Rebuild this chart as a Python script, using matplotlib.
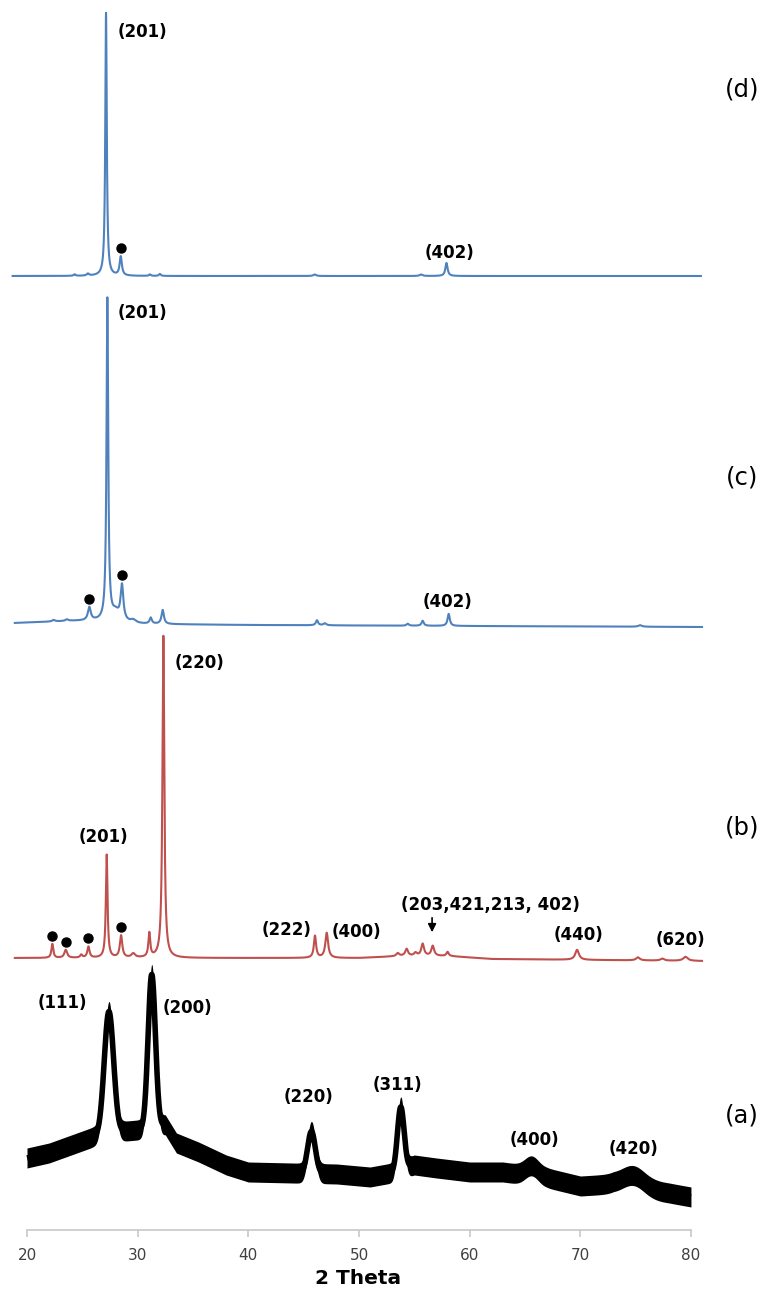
import numpy as np
import matplotlib.pyplot as plt

plt.rcParams['font.family'] = ['DejaVu Sans']

# intensities are in arbitrary units (stacked patterns, offset upwards)

# (d) - blue, top
d_range = (18.7, 80.9)
d_base_x = [18.7, 80.9]
d_base_y = [1015, 1015]
d_pos = [24.3, 25.5, 27.14, 28.47, 31.1, 32.0, 46.0, 55.6, 57.9]
d_height = [1.5, 2, 263, 19, 1.5, 2, 1.5, 1.5, 13]
d_width = [0.1, 0.12, 0.08, 0.12, 0.1, 0.1, 0.15, 0.15, 0.12]
d_dots = [28.47]

# (c) - blue
c_range = (18.9, 81.0)
c_base_x = [18.9, 24.0, 26.0, 30.0, 40.0, 60.0, 81.0]
c_base_y = [668, 670, 670, 667, 666, 665, 664]
c_pos = [22.4, 23.6, 25.63, 27.26, 28.0, 28.58, 29.6, 31.18, 32.26, 46.2, 46.9,
         54.4, 55.75, 58.1, 75.4]
c_height = [1.5, 1.5, 13, 322, 9, 35, 3, 6, 14, 5, 2, 2, 5, 12, 1.5]
c_width = [0.15, 0.15, 0.15, 0.09, 0.4, 0.15, 0.3, 0.12, 0.13, 0.12, 0.15,
           0.12, 0.12, 0.12, 0.2]
c_dots = [25.63, 28.58]

# (b) - red
b_range = (18.9, 81.0)
b_base_x = [18.9, 40.0, 50.0, 54.0, 58.0, 62.0, 81.0]
b_base_y = [333, 333, 333, 335, 335, 332, 330]
b_pos = [22.29, 23.5, 24.9, 25.55, 27.2, 28.5, 29.6, 31.05, 32.32, 46.02, 47.08,
         53.5, 54.3, 55.1, 55.75, 56.66, 58.0, 69.7, 75.2, 77.4, 79.5]
b_height = [14, 8, 3, 11, 103, 22, 4, 24, 322, 22, 25,
            3, 7, 3, 12, 10, 4, 10, 3, 2, 4]
b_width = [0.1, 0.15, 0.12, 0.12, 0.09, 0.13, 0.2, 0.1, 0.1, 0.12, 0.15,
           0.15, 0.15, 0.15, 0.15, 0.15, 0.12, 0.2, 0.2, 0.2, 0.25]
b_dots = [22.29, 23.5, 25.55, 28.5]

# (a) - black, broad and noisy
a_range = (20.0, 80.0)
a_base_x = [20, 22, 24, 26, 28, 30, 31, 32.5, 33.5, 35.5, 38, 40, 44, 48, 51, 53,
            55, 57, 60, 63, 67, 70, 73, 76, 78, 80]
a_base_y = [133, 138, 146, 154, 159, 161, 163, 166, 148, 139, 126, 119, 118, 117,
            114, 118, 126, 123, 119, 119, 113, 105, 107, 101, 98, 94]
a_pos = [27.4, 31.27, 45.7, 53.77, 65.6, 74.8]
a_height = [122, 153, 42, 63, 10, 12]
a_sigma = [0.42, 0.33, 0.35, 0.3, 0.6, 1.0]
a_noise = 10

# labels
side_labels = ['(d)', '(c)', '(b)', '(a)']
side_label_y = [1201, 814, 464, 176]

hkl_text = ['(201)', '(402)', '(201)', '(402)', '(220)', '(201)', '(222)', '(400)',
            '(203,421,213, 402)', '(440)', '(620)',
            '(111)', '(200)', '(220)', '(311)', '(400)', '(420)']
hkl_x = [30.4, 58.13, 30.4, 57.95, 35.63, 26.87, 43.49, 49.8,
         61.84, 69.79, 79.0,
         23.16, 34.46, 45.39, 53.5, 65.81, 74.76]
hkl_y = [1259, 1038, 978, 689, 628, 454, 361, 359,
         386, 356, 351,
         288, 283, 194, 206, 151, 142]

xticks = [20, 30, 40, 50, 60, 70, 80]

blue = '#4f81bd'
red = '#c0504d'


def lorentz(x, pos, height, width):
    y = np.zeros_like(x)
    for p, h, w in zip(pos, height, width):
        y += h * w**2 / ((x - p)**2 + w**2)
    return y


def gauss(x, pos, height, sigma):
    y = np.zeros_like(x)
    for p, h, s in zip(pos, height, sigma):
        y += h * np.exp(-0.5 * ((x - p) / s)**2)
    return y


fig = plt.figure(figsize=(7.62, 12.91), dpi=100)
ax = fig.add_axes([0, 0, 1, 1])
ax.set_xlim(17.56, 86.41)
ax.set_ylim(0, 1291)

# crystalline patterns
for rng, bx, by, pos, hh, ww, dots, col in [
        (d_range, d_base_x, d_base_y, d_pos, d_height, d_width, d_dots, blue),
        (c_range, c_base_x, c_base_y, c_pos, c_height, c_width, c_dots, blue),
        (b_range, b_base_x, b_base_y, b_pos, b_height, b_width, b_dots, red)]:
    x = np.arange(rng[0], rng[1], 0.01)
    y = np.interp(x, bx, by) + lorentz(x, pos, hh, ww)
    ax.plot(x, y, color=col, lw=1.5, solid_joinstyle='round')
    dx = np.array(dots)
    dy = np.interp(dx, bx, by) + lorentz(dx, pos, hh, ww) + 8
    ax.plot(dx, dy, 'o', color='black', ms=6.5)

# amorphous-ish pattern (a)
x = np.arange(a_range[0], a_range[1], 0.01)
y = np.interp(x, a_base_x, a_base_y) + gauss(x, a_pos, a_height, a_sigma)
ax.fill_between(x, y - a_noise, y + a_noise, color='black', lw=0)
ax.plot(x, y, color='black', lw=4, solid_capstyle='butt')

# peak annotations
for t, tx, ty in zip(hkl_text, hkl_x, hkl_y):
    ax.text(tx, ty, t, ha='center', va='center', fontsize=12, fontweight='bold')

ax.annotate('', xy=(56.6, 356), xytext=(56.6, 376),
            arrowprops=dict(arrowstyle='-|>', color='black', lw=1.2, mutation_scale=12))

for t, ty in zip(side_labels, side_label_y):
    ax.text(84.6, ty, t, ha='center', va='center', fontsize=17.5)

# x axis
for s in ['left', 'right', 'top']:
    ax.spines[s].set_visible(False)
ax.spines['bottom'].set_position(('data', 61))
ax.spines['bottom'].set_bounds(20, 80)
ax.spines['bottom'].set_color('#c8c8c8')
ax.spines['bottom'].set_linewidth(1.2)
ax.set_yticks([])
ax.set_xticks(xticks)
ax.tick_params(axis='x', direction='out', length=5, width=1.2, color='#c8c8c8',
               labelsize=11, labelcolor='#404040', pad=8)
ax.text(49.9, 12, '2 Theta', ha='center', va='center', fontsize=14.5, fontweight='bold')

fig.savefig('out.png', dpi=100)
